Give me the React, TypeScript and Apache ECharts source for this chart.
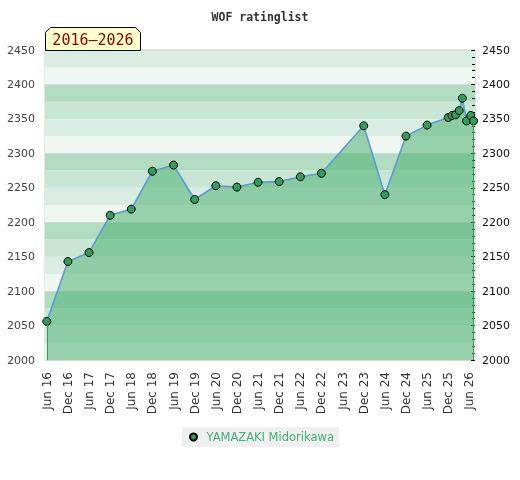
import React, { useEffect, useRef } from "react";
import * as echarts from "echarts";

// months since June 2016
const monthOffsets = [0, 6, 12, 18, 24, 30, 36, 42, 48, 54, 60, 66, 72, 78, 90, 96, 102, 108, 114, 115.1, 116.1, 117.1, 118, 119.2, 120.4, 121.2];
const ratings = [2056, 2143, 2156, 2210, 2219, 2274, 2283, 2233, 2253, 2251, 2258, 2259, 2266, 2271, 2340, 2240, 2325, 2341, 2352, 2355, 2356, 2362, 2380, 2347, 2355, 2347];
const xTickLabels = [
  "Jun 16", "Dec 16", "Jun 17", "Dec 17", "Jun 18", "Dec 18", "Jun 19", "Dec 19",
  "Jun 20", "Dec 20", "Jun 21", "Dec 21", "Jun 22", "Dec 22", "Jun 23", "Dec 23",
  "Jun 24", "Dec 24", "Jun 25", "Dec 25", "Jun 26",
];
const xTickValues = xTickLabels.map((_, i) => i * 6);
const seriesName = "YAMAZAKI Midorikawa";
const titleText = "WOF ratinglist";
const periodText = "2016–2026";
const bandColors = ["#eef7f1", "#daede2", "#c8e6d3", "#b2dcc2"];

export default function App() {
  const ref = useRef<HTMLDivElement>(null);
  useEffect(() => {
    if (!ref.current) return;
    const chart = echarts.init(ref.current, null, { renderer: "svg" });
    const data = monthOffsets.map((m, i) => [m, ratings[i]]);
    const last = monthOffsets.length - 1;
    const plain = (v: number) => String(v);
    const yBase = {
      type: "value",
      min: 2000,
      max: 2450,
    } as any;
    chart.setOption({
      animation: false,
      title: {
        text: titleText,
        left: "center",
        top: 6,
        textStyle: { fontFamily: "DejaVu Sans Mono", fontSize: 11.5, fontWeight: "bold", color: "#333" },
      },
      grid: { left: 45, right: 45, top: 50, bottom: 120, show: true, borderColor: "#ccc", borderWidth: 1, backgroundColor: "transparent" },
      legend: {
        left: 182,
        top: 427,
        padding: [4, 5, 4, 7],
        backgroundColor: "#f0f0f0",
        icon: "circle",
        itemWidth: 16,
        itemHeight: 7,
        textStyle: { color: "#3cb371", fontSize: 11.5, fontFamily: "DejaVu Sans" },
        data: [seriesName],
      },
      xAxis: {
        type: "value",
        min: -0.5,
        max: 121.6,
        axisLine: { show: false },
        axisTick: { show: false },
        splitLine: { show: false },
        axisLabel: {
          customValues: xTickValues,
          rotate: 90,
          margin: 12,
          fontSize: 12,
          fontFamily: "DejaVu Sans",
          color: "#333",
          formatter: (v: number) => xTickLabels[Math.round(v / 6)] ?? "",
        },
      },
      yAxis: [
        {
          ...yBase,
          position: "left",
          interval: 50,
          axisLine: { show: false },
          axisTick: { show: false },
          splitLine: { show: false },
          axisLabel: { margin: 10, fontSize: 11, fontFamily: "DejaVu Sans", color: "#444", formatter: plain },
        },
        {
          ...yBase,
          position: "right",
          interval: 50,
          axisLine: { show: false },
          axisTick: { show: true, inside: true, length: 4, lineStyle: { color: "#000" } },
          minorTick: { show: true, splitNumber: 5, length: 3, lineStyle: { color: "#000" } },
          splitLine: { show: false },
          axisLabel: { margin: 7, fontSize: 11, fontFamily: "DejaVu Sans", color: "#111", formatter: plain },
        },
        {
          ...yBase,
          position: "left",
          interval: 25,
          axisLine: { show: false },
          axisTick: { show: false },
          axisLabel: { show: false },
          splitLine: { show: false },
          splitArea: { show: true, areaStyle: { color: bandColors } },
          z: 0,
        },
        {
          ...yBase,
          position: "left",
          interval: 100,
          axisLine: { show: false },
          axisTick: { show: false },
          axisLabel: { show: false },
          splitLine: { show: true, lineStyle: { color: "#d6d6d6", width: 1 } },
        },
      ],
      series: [
        {
          name: seriesName,
          type: "line",
          yAxisIndex: 0,
          data,
          symbol: "circle",
          symbolSize: 8,
          lineStyle: { color: "#5a9ad6", width: 1.6 },
          itemStyle: { color: "#2f9e5c", borderColor: "#000", borderWidth: 1 },
          areaStyle: { color: "rgba(70,175,110,0.52)", opacity: 1, origin: "start" },
          markLine: {
            silent: true,
            symbol: "none",
            label: { show: false },
            lineStyle: { color: "#3a9a5a", width: 1, type: "solid" },
            data: [
              [{ coord: [monthOffsets[0], 2000] }, { coord: [monthOffsets[0], ratings[0]] }],
              [{ coord: [monthOffsets[last], 2000] }, { coord: [monthOffsets[last], ratings[last]] }],
            ],
          },
        },
      ],
      graphic: [
        {
          type: "polygon",
          shape: { points: [[45.5, 50.5], [45.5, 32.5], [50.5, 27.5], [135.5, 27.5], [140.5, 32.5], [140.5, 50.5]] },
          style: { fill: "#ffffcc", stroke: "#000", lineWidth: 1 },
          z: 10,
        },
        {
          type: "text",
          x: 93,
          y: 40,
          style: {
            text: periodText,
            fill: "#8b0000",
            font: "15px 'DejaVu Sans Mono'",
            align: "center",
            verticalAlign: "middle",
          },
          z: 11,
        },
      ],
    });
    return () => chart.dispose();
  }, []);
  return <div ref={ref} style={{ position: "fixed", left: 0, top: 0, width: 520, height: 480 }} />;
}
